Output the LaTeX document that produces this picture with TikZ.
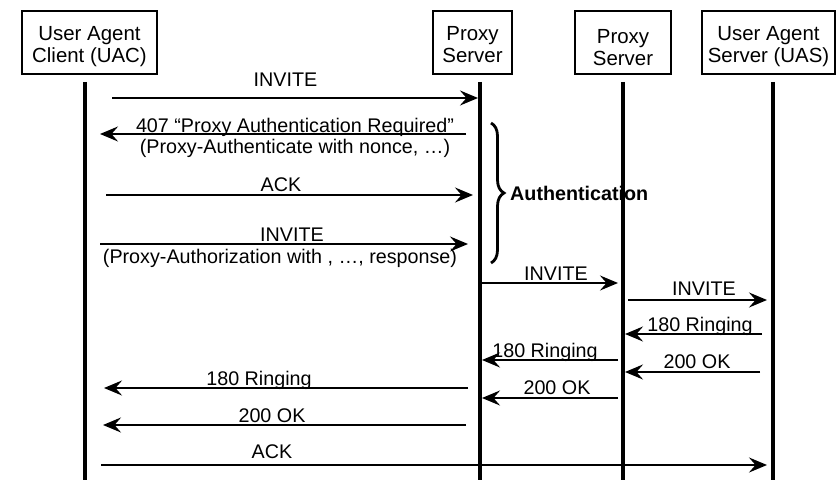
\documentclass[tikz,border=0pt]{standalone}
\usepackage{fontspec}
\setmainfont{Liberation Sans}
\usetikzlibrary{arrows.meta,decorations.pathreplacing}
\newcommand{\twolines}[3][4.5bp]{\raisebox{-#1}[\height][\depth]{\begin{tabular}{@{}c@{}}#2\\#3\end{tabular}}}

\begin{document}
\begin{tikzpicture}[x=1bp,y=-1bp,
    entity/.style={draw, line width=1.3bp, minimum height=63bp, inner sep=0pt,
      font=\fontsize{20.5}{22}\selectfont},
    lifeline/.style={line width=3.5bp},
    msg/.style={line width=2.2bp, -{Stealth[length=18bp,width=15bp,inset=6.5bp]}},
    lbl/.style={anchor=base, inner sep=0pt, font=\fontsize{19.8}{22}\selectfont}]
  \useasboundingbox (0,0) rectangle (836,480);

  % entities
  \node[entity, minimum width=135bp] (uac) at (89.5,42.5) {\twolines{User Agent}{Client (UAC)}};
  \node[entity, minimum width=79bp] (px1) at (472.5,42.5) {\twolines{Proxy}{Server}};
  \node[entity, minimum width=96bp] (px2) at (623,42.5) {\twolines[7.5bp]{Proxy}{Server}};
  \node[entity, minimum width=133bp] (uas) at (768.5,42.5) {\twolines{User Agent}{Server (UAS)}};

  % lifelines
  \coordinate (uac top) at (85,82);   \coordinate (uac bot) at (85,480);
  \coordinate (px1 top) at (480,82);  \coordinate (px1 bot) at (480,480);
  \coordinate (px2 top) at (623,82);  \coordinate (px2 bot) at (623,480);
  \coordinate (uas top) at (773,82);  \coordinate (uas bot) at (773,480);
  \draw[lifeline] (uac top) -- (uac bot);
  \draw[lifeline] (px1 top) -- (px1 bot);
  \draw[lifeline] (px2 top) -- (px2 bot);
  \draw[lifeline] (uas top) -- (uas bot);

  % messages
  \coordinate (a1) at (112,98);  \coordinate (b1) at (478,98);
  \coordinate (a2) at (466,134); \coordinate (b2) at (100,134);
  \coordinate (a3) at (106,195); \coordinate (b3) at (473,195);
  \coordinate (a4) at (100,244); \coordinate (b4) at (468,244);
  \coordinate (a5) at (482,283); \coordinate (b5) at (618,283);
  \coordinate (a6) at (628,300); \coordinate (b6) at (767,300);
  \coordinate (a7) at (762,334); \coordinate (b7) at (625,334);
  \coordinate (a8) at (760,372); \coordinate (b8) at (625,372);
  \coordinate (a9) at (618,360); \coordinate (b9) at (482,360);
  \coordinate (a10) at (618,398); \coordinate (b10) at (482,398);
  \coordinate (a11) at (468,388); \coordinate (b11) at (104,388);
  \coordinate (a12) at (466,425); \coordinate (b12) at (103,425);
  \coordinate (a13) at (101,465); \coordinate (b13) at (767,465);
  \draw[msg] (a1) -- (b1);
  \draw[msg] (a2) -- (b2);
  \draw[msg] (a3) -- (b3);
  \draw[msg] (a4) -- (b4);
  \draw[msg] (a5) -- (b5);
  \draw[msg] (a6) -- (b6);
  \draw[msg] (a7) -- (b7);
  \draw[msg] (a8) -- (b8);
  \draw[msg] (a9) -- (b9);
  \draw[msg] (a10) -- (b10);
  \draw[msg] (a11) -- (b11);
  \draw[msg] (a12) -- (b12);
  \draw[msg] (a13) -- (b13);

  % labels
  \node[lbl] (t1) at (285.5,87) {INVITE};
  \node[lbl] (t2) at (295,133) {407 “Proxy Authentication Required”};
  \node[lbl] (t2b) at (295,154) {(Proxy-Authenticate with nonce, …)};
  \node[lbl] (t3) at (281,192) {ACK};
  \node[lbl] (t4) at (292,242) {INVITE};
  \node[lbl] (t4b) at (280,264) {(Proxy-Authorization with , …, response)};
  \node[lbl] (t5) at (556,281) {INVITE};
  \node[lbl] (t6) at (704,296) {INVITE};
  \node[lbl] (t7) at (700,332) {180 Ringing};
  \node[lbl] (t8) at (697,368) {200 OK};
  \node[lbl] (t9) at (545,357) {180 Ringing};
  \node[lbl] (t10) at (557,394) {200 OK};
  \node[lbl] (t11) at (259,385) {180 Ringing};
  \node[lbl] (t12) at (272,422) {200 OK};
  \node[lbl] (t13) at (272,458) {ACK};

  % authentication brace
  \coordinate (br top) at (491,123);
  \coordinate (br bot) at (491,263);
  \draw[line width=2.8bp, decorate, decoration={brace, amplitude=13bp}] (br top) -- (br bot);
  \node[lbl, anchor=base west, font=\fontsize{19.8}{22}\selectfont\bfseries] (auth) at (510,201) {Authentication};
\end{tikzpicture}
\end{document}
